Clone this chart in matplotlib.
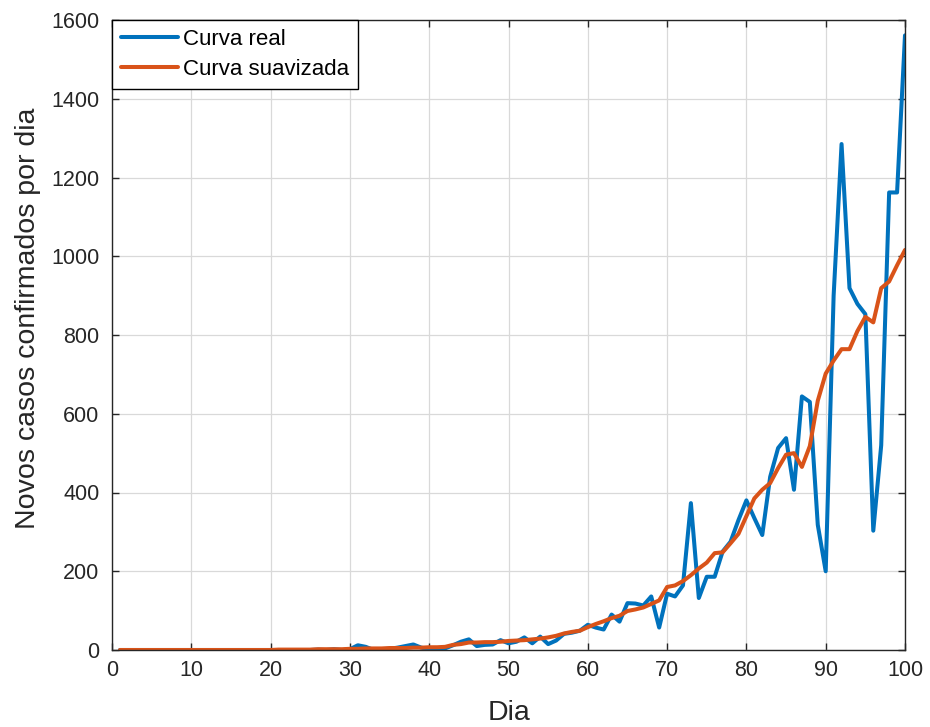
import matplotlib
matplotlib.use("Agg")
import matplotlib.pyplot as plt
import numpy as np

plt.rcParams['font.family'] = ['Liberation Sans', 'DejaVu Sans']

days = list(range(1, 101))

curva_real = [0]*25 + [
    1, 0, 2, 0, 2,            # 26-30
    12, 8, 0, 2, 3, 6, 10, 14, 6, 2,   # 31-40
    0, 4, 12, 21, 27, 10, 13, 14, 25, 17,   # 41-50
    21, 32, 17, 34, 15, 24, 41, 44, 49, 64,  # 51-60
    57, 52, 90, 72, 119, 118, 113, 136, 57, 143,  # 61-70
    136, 164, 373, 132, 186, 186, 250, 275, 330, 380,  # 71-80
    335, 292, 440, 513, 538, 407, 644, 630, 318, 200,  # 81-90
    900, 1285, 919, 879, 853, 303, 520, 1162, 1162, 1561,  # 91-100
]

curva_suavizada = [0]*20 + [
    1, 1, 1, 1, 1, 2, 2, 2, 2, 3,   # 21-30
    3, 4, 4, 4, 5, 5, 5, 6, 6, 7,   # 31-40
    7, 8, 13, 15, 19, 19, 20, 20, 21, 23,   # 41-50
    24, 25, 27, 29, 32, 36, 42, 46, 49, 58,  # 51-60
    66, 73, 81, 87, 99, 103, 108, 117, 126, 160,  # 61-70
    164, 175, 190, 207, 222, 246, 248, 271, 295, 340,  # 71-80
    385, 407, 424, 462, 496, 500, 465, 518, 633, 702,  # 81-90
    735, 764, 764, 810, 846, 832, 919, 936, 977, 1016,  # 91-100
]

x_ticks = [0, 10, 20, 30, 40, 50, 60, 70, 80, 90, 100]
y_ticks = [0, 200, 400, 600, 800, 1000, 1200, 1400, 1600]

fig = plt.figure(figsize=(9.30, 7.27), dpi=100)
ax = fig.add_axes([112/930, 1-650/727, (905-112)/930, (650-20)/727])

ax.plot(days, curva_real, color='#0072BD', lw=2.9, label='Curva real',
        solid_joinstyle='round', solid_capstyle='round')
ax.plot(days, curva_suavizada, color='#D95319', lw=2.9, label='Curva suavizada',
        solid_joinstyle='round', solid_capstyle='round')

ax.set_xlim(0, 100)
ax.set_ylim(0, 1600)
ax.set_xticks(x_ticks)
ax.set_yticks(y_ticks)
ax.grid(True, color='#d9d9d9', lw=0.9)
ax.set_axisbelow(True)
for s in ax.spines.values():
    s.set_color('#262626')
    s.set_linewidth(1.0)
ax.tick_params(direction='in', top=True, right=True, length=5, width=1.0,
               color='#262626', labelcolor='#262626', labelsize=15.5)
ax.tick_params(axis='y', pad=9)
ax.tick_params(axis='x', pad=7)

ax.set_xlabel('Dia', fontsize=20.5, color='#262626', labelpad=14)
ax.set_ylabel('Novos casos confirmados por dia', fontsize=20.5, color='#262626')
ax.yaxis.set_label_coords(-0.089, 0.527)

leg = ax.legend(loc='upper left', fontsize=16, frameon=True, fancybox=False,
                borderaxespad=0, handlelength=2.55, handletextpad=0.25,
                borderpad=0.4, labelspacing=0.42, framealpha=1)
leg.get_frame().set_edgecolor('#000000')
leg.get_frame().set_linewidth(1.0)
for h in leg.get_lines():
    h.set_linewidth(2.9)

fig.savefig('out.png', dpi=100)
